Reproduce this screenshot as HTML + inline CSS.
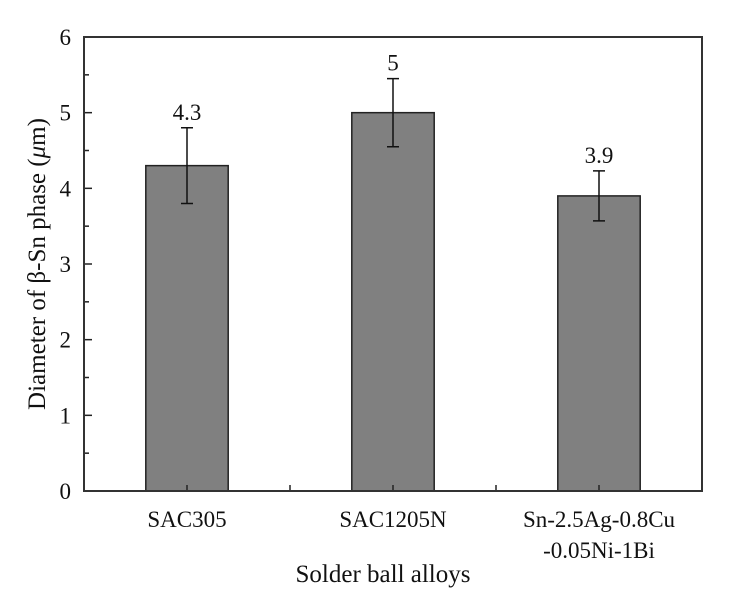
<!DOCTYPE html>
<html><head><meta charset="utf-8"><style>
body{margin:0;background:#fff}
svg, svg text{font-family:"Liberation Serif","Times New Roman",serif}
svg text{fill:#111}
</style></head><body>
<svg width="736" height="608" font-family="Liberation Serif, serif">
<g id="g"></g>
</svg>
<script>
const categories=["SAC305","SAC1205N","Sn-2.5Ag-0.8Cu|-0.05Ni-1Bi"];
const values=[4.3,5,3.9];
const errors=[0.5,0.45,0.33];
const valueLabels=["4.3","5","3.9"];
const yTicks=[0,1,2,3,4,5,6];
const L=84,R=702,T=37,B=491;
const y=v=>B-(B-T)*v/6;
const x=i=>L+(R-L)*(i+0.5)/3;
const ns="http://www.w3.org/2000/svg";
const g=document.getElementById('g');
function mk(t,a,p){const e=document.createElementNS(ns,t);for(const k in a)e.setAttribute(k,a[k]);(p||g).appendChild(e);return e;}
const bw=(R-L)/3*0.4;
values.forEach((v,i)=>{
 const b=mk('rect',{x:x(i)-bw/2,y:y(v),width:bw,height:B-y(v),fill:'#808080',stroke:'#222','stroke-width':1.5});
 
 
 const e=mk('path',{d:`M${x(i)},${y(v+errors[i])}V${y(v-errors[i])}M${x(i)-6},${y(v+errors[i])}H${x(i)+6}M${x(i)-6},${y(v-errors[i])}H${x(i)+6}`,stroke:'#111','stroke-width':1.5,fill:'none'});
 
 
 const t=mk('text',{x:x(i),y:y(v+errors[i])-8,'text-anchor':'middle','font-size':23});
 t.textContent=valueLabels[i];
 
 
 mk('line',{x1:x(i),x2:x(i),y1:B,y2:B-6,stroke:'#222','stroke-width':1.5});
 if(i<2) mk('line',{x1:x(i+0.5),x2:x(i+0.5),y1:B,y2:B-6,stroke:'#222','stroke-width':1.5});
 const lines=categories[i].split('|');
 lines.forEach((s,j)=>{
  const c=mk('text',{x:x(i),y:527+j*31,'text-anchor':'middle','font-size':23});
  c.textContent=s;
  
  
 });
});
yTicks.forEach(v=>{
 mk('line',{x1:L,x2:L+8,y1:y(v),y2:y(v),stroke:'#222','stroke-width':1.5});
 if(v<6) mk('line',{x1:L,x2:L+5,y1:y(v+0.5),y2:y(v+0.5),stroke:'#222','stroke-width':1.5});
 const t=mk('text',{x:L-13,y:y(v)+8,'text-anchor':'end','font-size':23});
 t.textContent=v;
 
 
});
const f=mk('rect',{x:L,y:T,width:R-L,height:B-T,fill:'none',stroke:'#333','stroke-width':2});


const xt=mk('text',{x:(L+R)/2-10,y:582,'text-anchor':'middle','font-size':25});
xt.textContent='Solder ball alloys';


const yt=mk('text',{x:0,y:0,'text-anchor':'middle','font-size':25,transform:'translate(45,264) rotate(-90)'});
yt.innerHTML='Diameter of β-Sn phase (<tspan font-style="italic">μ</tspan>m)';


</script>
</body></html>
